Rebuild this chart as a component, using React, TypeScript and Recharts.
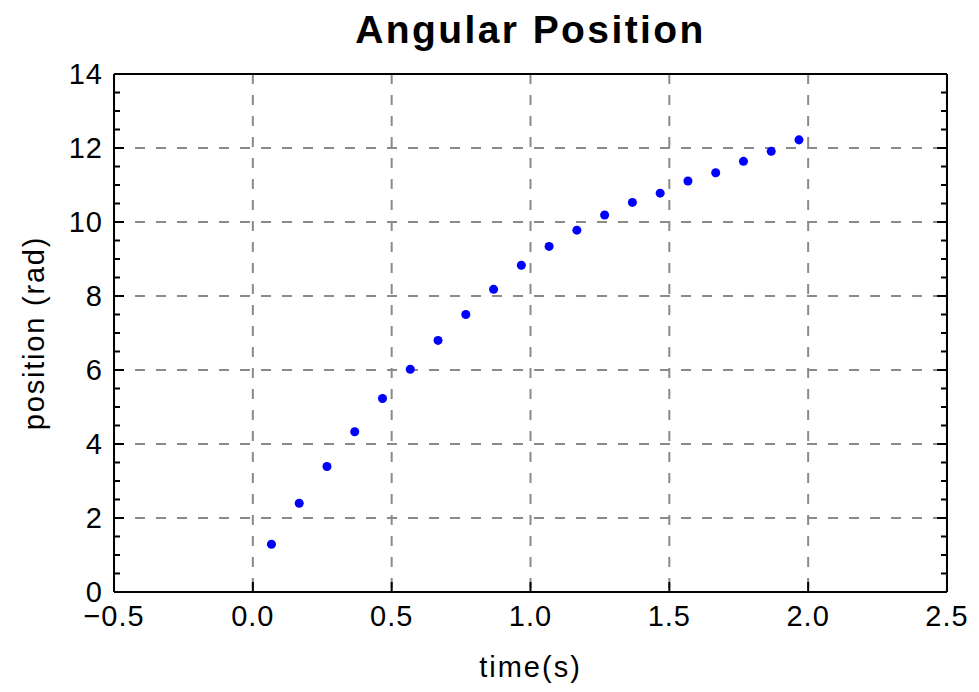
import * as React from "react"
import {
  ScatterChart,
  Scatter,
  XAxis,
  YAxis,
  ZAxis,
  CartesianGrid,
  Label,
} from "recharts"

// readings
const times = [
  0.067, 0.167, 0.267, 0.367, 0.467, 0.567, 0.667, 0.767, 0.867, 0.967,
  1.067, 1.167, 1.267, 1.367, 1.467, 1.567, 1.667, 1.767, 1.867, 1.967,
]
const positions = [
  1.29, 2.4, 3.39, 4.33, 5.23, 6.02, 6.8, 7.5, 8.18, 8.83,
  9.34, 9.78, 10.19, 10.53, 10.78, 11.11, 11.33, 11.64, 11.91, 12.22,
]

const xMajor = [-0.5, 0, 0.5, 1, 1.5, 2, 2.5]
const xMinor = [
  -0.4, -0.3, -0.2, -0.1, 0.1, 0.2, 0.3, 0.4, 0.6, 0.7, 0.8, 0.9, 1.1, 1.2,
  1.3, 1.4, 1.6, 1.7, 1.8, 1.9, 2.1, 2.2, 2.3, 2.4,
]
const yMajor = [0, 2, 4, 6, 8, 10, 12, 14]
const yMinor = [0.5, 1, 1.5, 2.5, 3, 3.5, 4.5, 5, 5.5, 6.5, 7, 7.5, 8.5, 9, 9.5, 10.5, 11, 11.5, 12.5, 13, 13.5]
const xGrid = [0, 0.5, 1, 1.5, 2]
const yGrid = [2, 4, 6, 8, 10, 12]

const data = times.map((t, i) => ({ t, pos: positions[i] }))

const W = 979
const H = 692
const margin = { top: 74, right: 32, bottom: 100, left: 114 }
const edge = {
  top: margin.top,
  bottom: H - margin.bottom,
  left: margin.left,
  right: W - margin.right,
}

const font = "'Liberation Sans', Arial, sans-serif"
const line = { stroke: "#000", strokeWidth: 2 }
// axes get a tiny size so they still render but don't push the plot area around
const thin = 0.01

type Side = "top" | "bottom" | "left" | "right"

const fmtX = (v: number) => (v < 0 ? "\u2212" + Math.abs(v).toFixed(1) : v.toFixed(1))

// inward tick mark on the frame edge, at the coordinate recharts hands over
const makeTick = (side: Side, size: number, withLabel: boolean) => (p: any) => {
  const { x, y, payload } = p
  let l
  if (side === "bottom") l = { x1: x, y1: edge.bottom, x2: x, y2: edge.bottom - size }
  else if (side === "top") l = { x1: x, y1: edge.top, x2: x, y2: edge.top + size }
  else if (side === "left") l = { x1: edge.left, y1: y, x2: edge.left + size, y2: y }
  else l = { x1: edge.right, y1: y, x2: edge.right - size, y2: y }
  let label = null
  if (withLabel && side === "bottom") {
    label = (
      <text x={x} y={edge.bottom + 13} dy="0.71em" textAnchor="middle" fontSize={29} fontFamily={font} letterSpacing={1} fill="#000">
        {fmtX(payload.value)}
      </text>
    )
  } else if (withLabel && side === "left") {
    label = (
      <text x={edge.left - 11} y={y} dy="0.36em" textAnchor="end" fontSize={29} fontFamily={font} letterSpacing={1} fill="#000">
        {payload.value}
      </text>
    )
  }
  return (
    <g>
      <line {...l} stroke="#000" strokeWidth={2} />
      {label}
    </g>
  )
}

const xAxisProps = (id: string, side: "top" | "bottom", ticks: number[], size: number, withLabel: boolean) => ({
  xAxisId: id,
  orientation: side,
  type: "number" as const,
  domain: [-0.5, 2.5],
  allowDataOverflow: true,
  ticks,
  interval: 0,
  height: thin,
  stroke: "#000",
  axisLine: line,
  tickLine: false,
  tickSize: 0,
  tickMargin: 0,
  tick: makeTick(side, size, withLabel),
})

const yAxisProps = (id: string, side: "left" | "right", ticks: number[], size: number, withLabel: boolean) => ({
  yAxisId: id,
  orientation: side,
  type: "number" as const,
  domain: [0, 14],
  allowDataOverflow: true,
  ticks,
  interval: 0,
  width: thin,
  stroke: "#000",
  axisLine: line,
  tickLine: false,
  tickSize: 0,
  tickMargin: 0,
  tick: makeTick(side, size, withLabel),
})

export default function App() {
  return (
    <div style={{ position: "absolute", left: 0, top: 0, width: W, height: H, background: "#fff" }}>
      <div
        style={{
          position: "absolute",
          left: edge.left,
          width: edge.right - edge.left,
          top: 8,
          textAlign: "center",
          fontFamily: font,
          fontWeight: "bold",
          fontSize: 39,
          letterSpacing: 2.4,
          color: "#000",
        }}
      >
        Angular Position
      </div>
      <ScatterChart width={W} height={H} margin={margin}>
        <CartesianGrid
          xAxisId="main"
          yAxisId="main"
          stroke="#8a8a8a"
          strokeWidth={2}
          strokeDasharray="10 11"
          verticalValues={xGrid}
          horizontalValues={yGrid}
        />
        <XAxis {...xAxisProps("main", "bottom", xMajor, 10, true)} dataKey="t">
          <Label
            value="time(s)"
            position="bottom"
            offset={64}
            style={{ fontSize: 29, fill: "#000", fontFamily: font, letterSpacing: 2 }}
          />
        </XAxis>
        <XAxis {...xAxisProps("bMinor", "bottom", xMinor, 6, false)} />
        <XAxis {...xAxisProps("tMajor", "top", xMajor, 10, false)} />
        <XAxis {...xAxisProps("tMinor", "top", xMinor, 6, false)} />

        <YAxis {...yAxisProps("main", "left", yMajor, 10, true)} dataKey="pos">
          <Label
            value="position (rad)"
            position="left"
            angle={-90}
            offset={80}
            style={{ fontSize: 29, fill: "#000", fontFamily: font, letterSpacing: 1.8, textAnchor: "middle" }}
          />
        </YAxis>
        <YAxis {...yAxisProps("lMinor", "left", yMinor, 6, false)} />
        <YAxis {...yAxisProps("rMajor", "right", yMajor, 10, false)} />
        <YAxis {...yAxisProps("rMinor", "right", yMinor, 6, false)} />

        <ZAxis range={[64, 64]} />
        <Scatter
          xAxisId="main"
          yAxisId="main"
          data={data}
          fill="#0000ff"
          shape="circle"
          isAnimationActive={false}
        />
      </ScatterChart>
    </div>
  )
}
